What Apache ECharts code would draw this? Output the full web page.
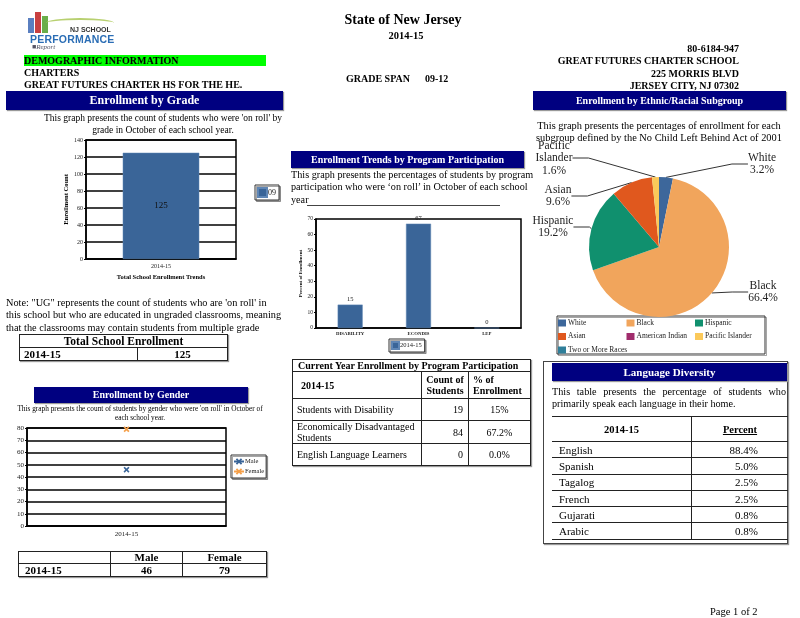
<!DOCTYPE html>
<html><head><meta charset="utf-8">
<script src="https://cdn.jsdelivr.net/npm/echarts@6/dist/echarts.min.js"></script>
<style>
body{margin:0;width:800px;height:618px;background:#fff;overflow:hidden;font-family:'Liberation Serif','Times New Roman',serif;color:#000;position:relative}
#chart{position:absolute;left:0;top:0;width:800px;height:618px;z-index:0}
.a{position:absolute;white-space:nowrap;z-index:2}
.b{font-weight:bold}
.nav{position:absolute;background:#000080;color:#fff;font-weight:bold;text-align:center;box-shadow:1px 1px 1px #999;z-index:2}
table{position:absolute;border-collapse:collapse;z-index:2;font-family:'Liberation Serif','Times New Roman',serif}
td{padding:0;border:1.5px solid #222}
</style></head>
<body>
<div id="chart"></div>

<!-- logo -->
<div class="a" style="left:28px;top:18px;width:6px;height:15px;background:#5a7fc0"></div>
<div class="a" style="left:35px;top:12px;width:6px;height:21px;background:#c84040"></div>
<div class="a" style="left:42px;top:16px;width:6px;height:17px;background:#6aae4a"></div>
<div class="a" style="left:46px;top:18px;width:68px;height:8px;border-top:2px solid #b8d070;border-radius:50% 50% 0 0"></div>
<div class="a b" style="left:70px;top:26px;font:bold 7px 'Liberation Sans',Arial,sans-serif;color:#333">NJ SCHOOL</div>
<div class="a b" style="left:30px;top:33px;font:900 10.5px 'Liberation Sans',Arial,sans-serif;color:#2a6db5;letter-spacing:0.2px">PERFORMANCE</div>
<div class="a" style="left:32px;top:43px;font:italic 7px 'Liberation Serif',serif;color:#556">&#9632;Report</div>

<div class="a b" style="left:3px;width:800px;text-align:center;top:12px;font-size:14px">State of New Jersey</div>
<div class="a b" style="left:6px;width:800px;text-align:center;top:30px;font-size:10.5px">2014-15</div>
<div class="a b" style="left:24px;top:55px;width:242px;height:11px;background:#00ff00;font-size:10px;line-height:11px">DEMOGRAPHIC INFORMATION</div>
<div class="a b" style="left:24px;top:67px;font-size:10px">CHARTERS</div>
<div class="a b" style="left:24px;top:79px;font-size:10px">GREAT FUTURES CHARTER HS FOR THE HE.</div>
<div class="a b" style="left:346px;top:73px;font-size:10px">GRADE SPAN</div>
<div class="a b" style="left:425px;top:73px;font-size:10px">09-12</div>
<div class="a b" style="right:61px;top:43px;font-size:10px;text-align:right;line-height:12.3px">80-6184-947<br>GREAT FUTURES CHARTER SCHOOL<br>225 MORRIS BLVD<br>JERSEY CITY, NJ 07302</div>

<div class="nav" style="left:6px;top:91px;width:277px;height:19px;font-size:12px;line-height:19px">Enrollment by Grade</div>
<div class="nav" style="left:533px;top:91px;width:253px;height:19px;font-size:10px;line-height:19px">Enrollment by Ethnic/Racial Subgroup</div>

<div class="a" style="left:33px;width:260px;text-align:center;top:113px;font-size:9.5px;line-height:11.5px">This graph presents the count of students who were 'on roll' by<br>grade in October of each school year.</div>

<div class="a" style="left:6px;top:297px;font-size:10.3px;line-height:12.4px">Note: "UG" represents the count of students who are 'on roll' in<br>this school but who are educated in ungraded classrooms, meaning<br>that the classrooms may contain students from multiple grade</div>

<table id="totTable" style="left:19px;top:334px;width:209px;font-size:11px;font-weight:bold;box-shadow:1px 1px 1px #999"></table>

<div class="nav" style="left:34px;top:387px;width:214px;height:16px;font-size:10px;line-height:16px">Enrollment by Gender</div>
<div class="a" style="left:0;width:280px;text-align:center;top:405px;font-size:7.3px;line-height:8.5px">This graph presents the count of students by gender who were 'on roll' in October of<br>each school year.</div>

<table id="genTable" style="left:18px;top:551px;width:249px;font-size:11px;font-weight:bold;box-shadow:1px 1px 1px #999"></table>

<div class="nav" style="left:291px;top:151px;width:233px;height:17px;font-size:10px;line-height:17px">Enrollment Trends by Program Participation</div>
<div class="a" style="left:291px;top:169px;font-size:10.2px;line-height:12.3px">This graph presents the percentages of students by program<br>participation who were ‘on roll’ in October of each school<br>year</div>
<div class="a" style="left:307px;top:205px;width:193px;height:0;border-top:1px solid #444"></div>

<table id="progTable" style="left:292px;top:359px;width:239px;font-size:10px;box-shadow:1px 1px 1px #999"></table>

<div class="a" style="left:530px;width:258px;text-align:center;top:120px;font-size:10.4px;line-height:12.2px">This graph presents the percentages of enrollment for each<br>subgroup defined by the No Child Left Behind Act of 2001</div>

<div class="a" style="left:543px;top:361px;width:243px;height:181px;border:1.5px solid #444;box-shadow:1px 1px 1px #999;z-index:1"></div>
<div class="nav" style="left:552px;top:363px;width:235px;height:18px;font-size:11px;line-height:18px">Language Diversity</div>
<div class="a" style="left:552px;top:386px;width:234px;font-size:10.2px;line-height:12.3px;white-space:normal;text-align:justify;text-align-last:left">This table presents the percentage of students who primarily speak each language in their home.</div>
<table id="langTable" style="left:552px;top:416px;width:236px;font-size:11px"></table>

<div class="a" style="left:710px;top:606px;font-size:10.5px">Page 1 of 2</div>

<script>
// ---------- data ----------
const gradeYears = ['2014-15'];
const gradeSeriesName = '09';
const gradeValues = [125];

const programCats = ['DISABILITY', 'ECONDIS', 'LEP'];
const programSeriesName = '2014-15';
const programValues = [15, 67, 0];

const genderYears = ['2014-15'];
const maleValues = [46];
const femaleValues = [79];

const ethnicNames = ['White', 'Black', 'Hispanic', 'Asian', 'American Indian', 'Pacific Islander', 'Two or More Races'];
const ethnicValues = [3.2, 66.4, 19.2, 9.6, 0, 1.6, 0];
const ethnicColors = ['#3d679b', '#f1a55c', '#10906e', '#e0581e', '#a02c6c', '#fbc95a', '#2f7f9a'];

const totalYear = '2014-15';
const totalEnrollment = 125;

const programRowNames = ['Students with Disability', 'Economically Disadvantaged Students', 'English Language Learners'];
const programCounts = [19, 84, 0];
const programPercents = ['15%', '67.2%', '0.0%'];

const languageNames = ['English', 'Spanish', 'Tagalog', 'French', 'Gujarati', 'Arabic'];
const languagePercents = ['88.4%', '5.0%', '2.5%', '2.5%', '0.8%', '0.8%'];

// ---------- tables ----------
document.getElementById('totTable').innerHTML =
  '<tr style="height:13px"><td colspan="2" style="text-align:center;font-size:11.5px;line-height:12px">Total School Enrollment</td></tr>' +
  '<tr style="height:13px"><td style="width:113px;padding-left:4px;line-height:12px">' + totalYear + '</td><td style="text-align:center;line-height:12px">' + totalEnrollment + '</td></tr>';

document.getElementById('genTable').innerHTML =
  '<tr style="height:11px"><td style="width:91px"></td><td style="width:71px;text-align:center;line-height:11px">Male</td><td style="text-align:center;line-height:11px">Female</td></tr>' +
  genderYears.map((y, i) => '<tr style="height:13px"><td style="padding-left:6px;line-height:12px">' + y + '</td><td style="text-align:center;line-height:12px">' + maleValues[i] + '</td><td style="text-align:center;line-height:12px">' + femaleValues[i] + '</td></tr>').join('');

let pt = '<tr style="height:10px"><td colspan="3" style="font-weight:bold;padding:1px 0 0 5px;line-height:10px;font-size:10px">Current Year Enrollment by Program Participation</td></tr>' +
  '<tr style="height:27px"><td style="width:120px;font-weight:bold;padding-left:8px">2014-15</td><td style="width:46px;font-weight:bold;text-align:center;line-height:11px">Count of<br>Students</td><td style="font-weight:bold;padding-left:4px;line-height:11px">% of<br>Enrollment</td></tr>';
const rowH = [22, 22, 22];
programRowNames.forEach((n, i) => {
  pt += '<tr style="height:' + rowH[i] + 'px"><td style="padding-left:4px;line-height:11px">' + n + '</td><td style="text-align:right;padding-right:5px">' + programCounts[i] + '</td><td style="text-align:center">' + programPercents[i] + '</td></tr>';
});
document.getElementById('progTable').innerHTML = pt;

let lt = '<tr style="height:25px"><td style="width:139px;border-left:none;border-top:1.5px solid #222;text-align:center;font-weight:bold;font-size:10.5px">2014-15</td><td style="border-right:none;text-align:center;font-weight:bold;font-size:10.5px;text-decoration:underline">Percent</td></tr>';
languageNames.forEach((n, i) => {
  lt += '<tr style="height:16.3px"><td style="border-left:none;padding-left:7px;line-height:14px">' + n + '</td><td style="border-right:none;text-align:right;padding-right:30px;line-height:14px">' + languagePercents[i] + '</td></tr>';
});
document.getElementById('langTable').innerHTML = lt;

// ---------- chart ----------
const serif = "'Liberation Serif','Times New Roman',serif";
const chart = echarts.init(document.getElementById('chart'), null, { renderer: 'canvas' });
const xMark = 'path://M0,2 L2,0 L5,3 L8,0 L10,2 L7,5 L10,8 L8,10 L5,7 L2,10 L0,8 L3,5 Z';
const legendBox = { borderColor: '#333', borderWidth: 1, backgroundColor: '#fff', shadowColor: 'rgba(0,0,0,0.35)', shadowOffsetX: 1.5, shadowOffsetY: 1.5, shadowBlur: 0 };

const pieData = ethnicNames.map((n, i) => ({
  name: n, value: ethnicValues[i],
  itemStyle: { color: ethnicColors[i] },
  label: { show: ethnicValues[i] > 0 },
  labelLine: { show: ethnicValues[i] > 0 }
}));

// label placement for the pie (layout only)
const pieLabelSpot = {
  'White': [762, 164], 'Black': [763, 292], 'Hispanic': [553, 227],
  'Asian': [558, 196], 'Pacific Islander': [554, 158]
};

const legendCols = [[0, 3, 6], [1, 4], [2, 5]];

chart.setOption({
  animation: false,
  textStyle: { fontFamily: serif, color: '#000' },
  grid: [
    { left: 86, top: 140, width: 150, height: 119, show: true, borderColor: '#000', borderWidth: 1.5 },
    { left: 316, top: 219, width: 205, height: 109, show: true, borderColor: '#000', borderWidth: 1.5 },
    { left: 27, top: 428, width: 199, height: 98, show: true, borderColor: '#000', borderWidth: 1.5 }
  ],
  xAxis: [
    { gridIndex: 0, type: 'category', data: gradeYears, axisTick: { show: false }, axisLine: { lineStyle: { color: '#000', width: 1.5 } },
      axisLabel: { fontSize: 6, color: '#222', margin: 4 },
      name: 'Total School Enrollment Trends', nameLocation: 'middle', nameGap: 15, nameTextStyle: { fontSize: 6.5, fontWeight: 'bold' } },
    { gridIndex: 1, type: 'category', data: programCats, axisTick: { show: false }, axisLine: { lineStyle: { color: '#000', width: 1.5 } },
      axisLabel: { fontSize: 4.8, fontWeight: 'bold', color: '#222', margin: 3 } },
    { gridIndex: 2, type: 'category', data: genderYears, axisTick: { show: false }, axisLine: { lineStyle: { color: '#000', width: 1.5 } },
      axisLabel: { fontSize: 7, color: '#222', margin: 5 } }
  ],
  yAxis: [
    { gridIndex: 0, type: 'value', min: 0, max: 140, interval: 20,
      axisLine: { show: true, lineStyle: { color: '#000', width: 1.5 } }, axisTick: { show: true, length: 2, lineStyle: { color: '#000' } },
      axisLabel: { fontSize: 6, color: '#222', margin: 3 }, splitLine: { lineStyle: { color: '#000', width: 1.5 } },
      name: 'Enrollment Count', nameLocation: 'middle', nameGap: 16, nameRotate: 90, nameTextStyle: { fontSize: 6.5, fontWeight: 'bold' } },
    { gridIndex: 1, type: 'value', min: 0, max: 70, interval: 10,
      axisLine: { show: true, lineStyle: { color: '#000', width: 1.5 } }, axisTick: { show: true, length: 2, lineStyle: { color: '#000' } },
      axisLabel: { fontSize: 5.5, color: '#222', margin: 3 }, splitLine: { show: false },
      name: 'Percent of Enrollment', nameLocation: 'middle', nameGap: 13, nameRotate: 90, nameTextStyle: { fontSize: 5, fontWeight: 'bold' } },
    { gridIndex: 2, type: 'value', min: 0, max: 80, interval: 10,
      axisLine: { show: true, lineStyle: { color: '#000', width: 1.5 } }, axisTick: { show: true, length: 2, lineStyle: { color: '#000' } },
      axisLabel: { fontSize: 7, color: '#222', margin: 3 }, splitLine: { lineStyle: { color: '#000', width: 1.5 } } }
  ],
  legend: [
    Object.assign({ data: [gradeSeriesName], left: 255, top: 185, orient: 'vertical', icon: 'rect', itemWidth: 9, itemHeight: 9, padding: [2, 3, 2, 2], itemGap: 2,
      textStyle: { fontSize: 8, color: '#222', padding: [0, 0, 0, -4] } }, legendBox),
    Object.assign({ data: [programSeriesName], left: 389, top: 339, icon: 'rect', itemWidth: 7, itemHeight: 7, padding: [2, 3, 2, 2],
      textStyle: { fontSize: 6.5, color: '#222', padding: [0, 0, 0, -4] } }, legendBox),
    Object.assign({ data: ['Male', 'Female'], left: 231, top: 455, orient: 'vertical', itemWidth: 10, itemHeight: 8, itemGap: 3, padding: [3, 2, 3, 2],
      textStyle: { fontSize: 6.5, color: '#222', padding: [0, 0, 0, -4] } }, legendBox),
    ...legendCols.map((col, k) => ({
      data: col.map(i => ethnicNames[i]), left: 557 + k * 68.5, top: 318, orient: 'vertical', itemWidth: 8, itemHeight: 7, itemGap: 5.5,
      padding: [1, 2, 1, 1], icon: 'rect', textStyle: { fontSize: 7.5, color: '#222', padding: [0, 0, 0, -3] }
    }))
  ],
  graphic: [
    { type: 'rect', shape: { x: 557, y: 316, width: 208, height: 38 }, style: { fill: 'none', stroke: '#333', lineWidth: 1, shadowColor: 'rgba(0,0,0,0.35)', shadowOffsetX: 1.5, shadowOffsetY: 1.5 }, z: 0 }
  ],
  series: [
    { name: gradeSeriesName, type: 'bar', xAxisIndex: 0, yAxisIndex: 0, data: gradeValues, barWidth: '51%',
      itemStyle: { color: '#3a6598', borderColor: '#5f86b5', borderWidth: 0.5 },
      label: { show: true, position: 'inside', fontSize: 9, color: '#111' } },
    { name: programSeriesName, type: 'bar', xAxisIndex: 1, yAxisIndex: 1, data: programValues, barWidth: 25,
      itemStyle: { color: '#3a6598', borderColor: '#5f86b5', borderWidth: 0.5 },
      label: { show: true, position: 'top', fontSize: 6.5, color: '#222', distance: 2 } },
    { name: 'Male', type: 'line', xAxisIndex: 2, yAxisIndex: 2, data: maleValues, symbol: xMark, symbolSize: 6,
      itemStyle: { color: '#3a6598' }, lineStyle: { color: '#3a6598' } },
    { name: 'Female', type: 'line', xAxisIndex: 2, yAxisIndex: 2, data: femaleValues, symbol: xMark, symbolSize: 6,
      itemStyle: { color: '#f5a04a' }, lineStyle: { color: '#f5a04a' } },
    { name: 'Ethnic', type: 'pie', center: [659, 247], radius: 70, startAngle: 90, clockwise: true,
      data: pieData,
      label: { fontSize: 11.5, color: '#222', fontFamily: serif, lineHeight: 12.5,
        formatter: p => p.name.replace(' ', '\n') + '\n' + p.value + '%' },
      labelLine: { length: 12, length2: 16, lineStyle: { color: '#333', width: 1 } },
      labelLayout: p => {
        const s = pieLabelSpot[ethnicNames[p.dataIndex]];
        return s ? { x: s[0], y: s[1], align: 'center', verticalAlign: 'middle' } : {};
      } }
  ]
});
</script>
</body></html>
